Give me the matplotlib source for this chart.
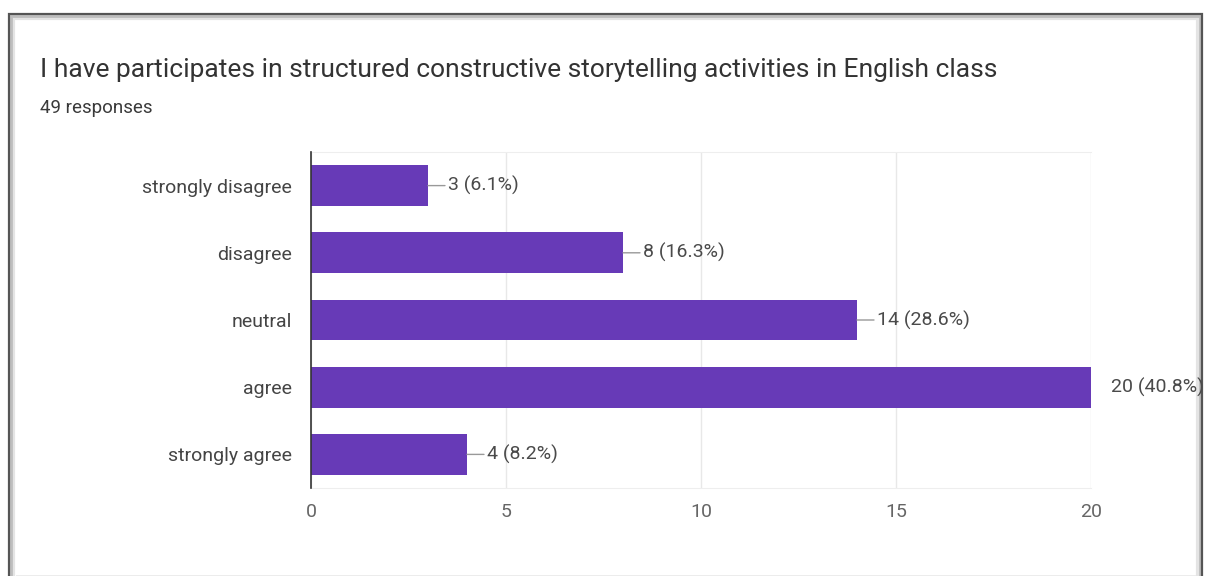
import matplotlib
matplotlib.use('Agg')
import matplotlib.pyplot as plt
from matplotlib.patches import Rectangle

plt.rcParams['font.family'] = ['Roboto', 'DejaVu Sans']

title = 'I have participates in structured constructive storytelling activities in English class'
subtitle = '49 responses'
categories = ['strongly disagree', 'disagree', 'neutral', 'agree', 'strongly agree']
counts = [3, 8, 14, 20, 4]
percents = [6.1, 16.3, 28.6, 40.8, 8.2]
xticks = [0, 5, 10, 15, 20]

W, H = 1208, 576
fig = plt.figure(figsize=(W / 100, H / 100), dpi=100)
fig.patch.set_facecolor('white')

# card outline with a soft inner shadow; bottom edge runs off the figure
for off, col, lw in [(4, '#e4e4e4', 3), (2, '#bdbdbd', 2), (0, '#555555', 1.6)]:
    fig.add_artist(Rectangle(((9 + off) / W, -0.1), (1193 - 2 * off) / W, (H - 14 - off) / H + 0.1,
                             transform=fig.transFigure, fill=False, edgecolor=col, linewidth=lw,
                             zorder=-1))
fig.add_artist(Rectangle((16 / W, 0), 1180 / W, 1.5 / H, transform=fig.transFigure,
                         facecolor='#ececec', edgecolor='none', zorder=-1))

fig.text(40 / W, 1 - 77 / H, title, fontsize=19, color='#333333', va='baseline')
fig.text(40 / W, 1 - 113 / H, subtitle, fontsize=13.5, color='#3a3a3a', va='baseline')

# plot area: x 311..1091 px, y 152..488 px
ax = fig.add_axes([311 / W, 1 - 488 / H, 780 / W, 336 / H])
ax.patch.set_alpha(0)
y = list(range(len(categories)))
ax.barh(y, counts, height=0.61, color='#673ab7', zorder=3)
ax.set_ylim(len(categories) - 0.5, -0.5)
ax.set_xlim(0, 20)
ax.set_yticks(y)
ax.set_yticklabels(categories, fontsize=14, color='#444444')
ax.set_xticks(xticks)
ax.set_xticklabels([str(t) for t in xticks], fontsize=14, color='#666666')
ax.tick_params(axis='both', length=0)
ax.tick_params(axis='y', pad=14)
ax.tick_params(axis='x', pad=11)
ax.grid(axis='x', color='#e8e8e8', linewidth=1, zorder=0)
for s in ['top', 'bottom']:
    ax.spines[s].set_color('#eeeeee')
ax.spines['right'].set_visible(False)
ax.spines['left'].set_color('#333333')
ax.spines['left'].set_linewidth(1.2)
ax.spines['left'].set_zorder(4)

xmax = max(counts)
for i, (c, p) in enumerate(zip(counts, percents)):
    label = f'{c} ({p}%)'
    if c != xmax:
        ax.annotate('', xy=(c, i), xytext=(c + 17 / 39, i),
                    arrowprops=dict(arrowstyle='-', color='#999999', lw=1, shrinkA=0, shrinkB=0))
    ax.annotate(label, xy=(c, i), xytext=(20, 0), textcoords='offset pixels',
                va='center', ha='left', fontsize=14, color='#4a4a4a', annotation_clip=False)

fig.savefig('out.png', dpi=100, facecolor='white')
